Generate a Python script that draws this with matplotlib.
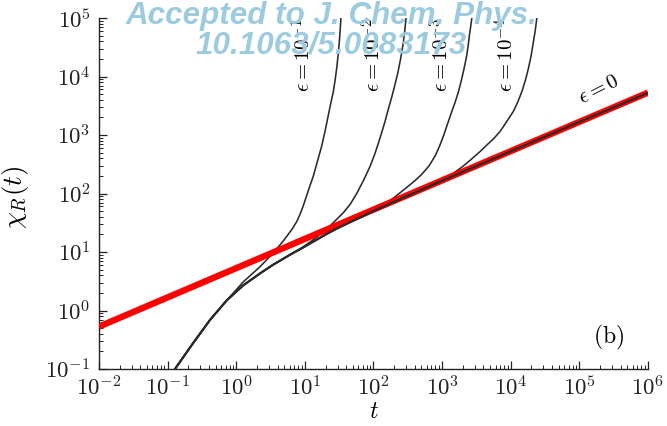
import numpy as np
import matplotlib
matplotlib.use("Agg")
import matplotlib.pyplot as plt
from matplotlib.ticker import LogLocator, FixedLocator, FixedFormatter, NullFormatter

plt.rcParams['mathtext.fontset'] = 'cm'
plt.rcParams['font.family'] = 'serif'

# ---- data ----
# red reference line (epsilon = 0 asymptote)
t_red = [1e-2, 1e6]
chi_red = [0.53, 5300]

# common early part of all curves
t_common = [0.128, 0.237, 0.415, 0.73]
chi_common = [0.1, 0.28, 0.69, 1.5]

# epsilon = 0 (black, under the red line)
t_eps0 = [1.27, 2.22, 3.4, 6.1, 9.5, 21, 29, 89, 244, 1e3, 1e4, 1e5, 1e6]
chi_eps0 = [2.7, 4.3, 6.0, 9.0, 12.0, 20.5, 25, 47, 80, 165, 525, 1670, 5250]

# epsilon = 1e-1
t_eps1 = [1.27, 2.22, 3.45, 4.86, 6.5, 7.6, 8.5, 9.5, 11.3, 13.3, 15.3, 17.6, 19.8, 22, 24,
          26, 27.6, 29.1, 30.5, 31.8, 32.7, 33.5]
chi_eps1 = [3.1, 5.6, 9.6, 15.5, 24.5, 33, 44, 62, 115, 200, 360, 650, 1200, 2200, 3600,
            5500, 8700, 13800, 23000, 39400, 62000, 1e5]

# epsilon = 1e-2
t_eps2 = [1.27, 2.22, 3.4, 6.1, 9.5, 15, 23.3, 36.4, 46, 57, 72, 89, 105, 125, 145, 165,
          186, 207, 226, 244, 259, 273, 286, 298]
chi_eps2 = [2.7, 4.3, 6.0, 9.0, 12.3, 18, 28, 47, 66, 100, 170, 290, 480, 900, 1600, 2800,
            4600, 7500, 11500, 18000, 26500, 39000, 62000, 1e5]

# epsilon = 1e-3
t_eps3 = [1.27, 2.22, 3.4, 6.1, 9.5, 21, 29, 89, 150, 219, 300, 400, 500, 650, 800, 920,
          1045, 1200, 1380, 1550, 1730, 1880, 2040, 2160, 2290, 2400, 2500, 2610, 2710]
chi_eps3 = [2.7, 4.3, 6.0, 9.0, 12.0, 20.5, 25, 48, 66, 93, 125, 165, 210, 300, 450, 650,
            960, 1550, 2500, 3650, 5500, 8000, 12100, 16500, 23300, 34000, 51000, 72000, 1e5]

# epsilon = 1e-4
t_eps4 = [1.27, 2.22, 3.4, 6.1, 9.5, 21, 29, 89, 244, 600, 1000, 1460, 2000, 2560, 3500,
          4480, 5600, 7000, 9300, 10960, 12700, 14500, 16300, 18100, 19800, 21400, 22700, 24000]
chi_eps4 = [2.7, 4.3, 6.0, 9.0, 12.0, 20.5, 25, 47, 80, 128, 170, 222, 290, 370, 510,
            674, 860, 1150, 1900, 2550, 3700, 5500, 8500, 13800, 22500, 39400, 60000, 1e5]

eps_labels = [r'$\epsilon=10^{-1}$', r'$\epsilon=10^{-2}$', r'$\epsilon=10^{-3}$', r'$\epsilon=10^{-4}$']
eps_label_t = [9.4, 96, 940, 8570]
eps_label_chi = 2.3e4
eps0_label = r'$\epsilon=0$'

xtick_vals = [1e-2, 1e-1, 1e0, 1e1, 1e2, 1e3, 1e4, 1e5, 1e6]
xtick_labels = [r'$10^{-2}$', r'$10^{-1}$', r'$10^{0}$', r'$10^{1}$', r'$10^{2}$',
                r'$10^{3}$', r'$10^{4}$', r'$10^{5}$', r'$10^{6}$']
ytick_vals = [1e-1, 1e0, 1e1, 1e2, 1e3, 1e4, 1e5]
ytick_labels = [r'$10^{-1}$', r'$10^{0}$', r'$10^{1}$', r'$10^{2}$', r'$10^{3}$',
                r'$10^{4}$', r'$10^{5}$']

# ---- figure ----
fig = plt.figure(figsize=(6.67, 4.26), dpi=100)
ax = fig.add_axes([0.1484, 0.1338, 0.8231, 0.8239])
ax.set_xscale('log')
ax.set_yscale('log')

black = '#2b2b2b'
lw_b = 1.15
for tt, cc in [(t_eps1, chi_eps1), (t_eps2, chi_eps2), (t_eps3, chi_eps3), (t_eps4, chi_eps4)]:
    ax.plot(t_common + tt, chi_common + cc, color=black, lw=lw_b, zorder=3,
            solid_joinstyle='round')

ax.plot(t_red, chi_red, color='#ff0000', lw=4.6, zorder=4, solid_capstyle='butt')
ax.plot(t_common + t_eps0, chi_common + chi_eps0, color=black, lw=1.6, zorder=5,
        solid_joinstyle='round')

ax.set_xlim(1e-2, 1e6)
ax.set_ylim(1e-1, 1e5)

for s in ['top', 'right']:
    ax.spines[s].set_visible(False)
for s in ['left', 'bottom']:
    ax.spines[s].set_linewidth(1.0)
    ax.spines[s].set_color('#222222')

ax.xaxis.set_major_locator(FixedLocator(xtick_vals))
ax.xaxis.set_major_formatter(FixedFormatter(xtick_labels))
ax.yaxis.set_major_locator(FixedLocator(ytick_vals))
ax.yaxis.set_major_formatter(FixedFormatter(ytick_labels))
ax.xaxis.set_minor_locator(LogLocator(base=10, subs=np.arange(2, 10), numticks=100))
ax.yaxis.set_minor_locator(LogLocator(base=10, subs=np.arange(2, 10), numticks=100))
ax.xaxis.set_minor_formatter(NullFormatter())
ax.yaxis.set_minor_formatter(NullFormatter())
ax.tick_params(which='major', direction='in', length=5.5, width=0.9, labelsize=16.5,
               top=False, right=False, colors='#222222')
ax.tick_params(which='minor', direction='in', length=3, width=0.7, top=False, right=False,
               colors='#222222')
ax.tick_params(axis='x', which='major', pad=5)
ax.tick_params(axis='y', which='major', pad=6)

ax.set_xlabel(r'$t$', fontsize=17, labelpad=0)
ax.set_ylabel(r'$\chi_R(t)$', fontsize=19.5)
ax.yaxis.set_label_coords(-0.124, 0.49)

# curve labels
for lab, tx in zip(eps_labels, eps_label_t):
    ax.text(tx, eps_label_chi, lab, rotation=90, fontsize=15, ha='center', va='center', zorder=6)
ax.text(1.95e5, 6100, eps0_label, rotation=27, fontsize=15, ha='center', va='center', zorder=6)
ax.text(0.929, 0.091, r'$\mathrm{(b)}$', transform=ax.transAxes, fontsize=17,
        ha='center', va='center')

# watermark
wm_kw = dict(fontsize=22.6, fontweight='bold', fontstyle='italic', family='Liberation Sans',
             color='#9ccbe0', ha='center', va='center', zorder=0.5)
fig.text(0.497, 0.963, 'Accepted to J. Chem. Phys.', **wm_kw)
fig.text(0.497, 0.893, '10.1063/5.0083173', **wm_kw)

fig.savefig('out.png', dpi=100)
